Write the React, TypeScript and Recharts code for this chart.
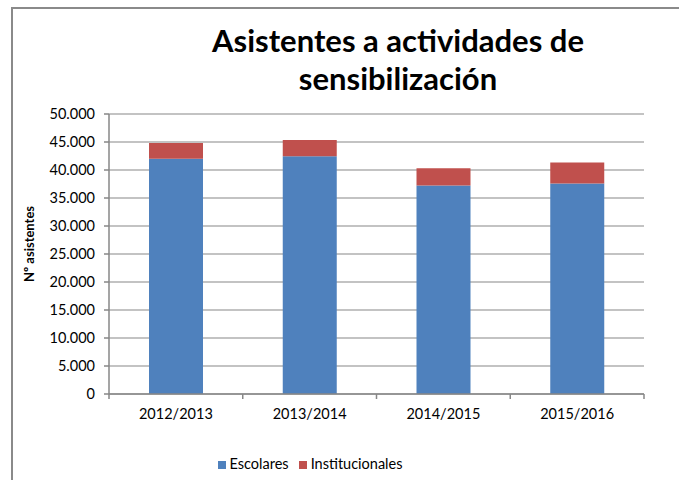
import React from 'react';
import { BarChart, Bar, XAxis, YAxis, CartesianGrid, Legend } from 'recharts';

const categories = ['2012/2013', '2013/2014', '2014/2015', '2015/2016'];
const escolares = [42000, 42450, 37250, 37600];
const institucionales = [2800, 2900, 3050, 3750];
const yTicks = [0, 5000, 10000, 15000, 20000, 25000, 30000, 35000, 40000, 45000, 50000];
const titleLines = ['Asistentes a actividades de', 'sensibilización'];

const data = categories.map((c, i) => ({
  name: c,
  Escolares: escolares[i],
  Institucionales: institucionales[i],
}));

const FONT = 'Lato, "Liberation Sans", sans-serif';
const GRAY = '#878787';

const fmt = (v: number) => {
  const s = String(Math.round(v));
  return s.replace(/\B(?=(\d{3})+(?!\d))/g, '.');
};

const XTick = (props: any) => {
  const { x, y, payload, index } = props;
  const off = payload.offset || 0;
  return (
    <g>
      <line x1={x - off} y1={y - 8} x2={x - off} y2={y - 3} stroke={GRAY} strokeWidth={1.5} />
      {index === categories.length - 1 && (
        <line x1={x + off} y1={y - 8} x2={x + off} y2={y - 3} stroke={GRAY} strokeWidth={1.5} />
      )}
      <text x={x} y={y + 17} textAnchor="middle" fontSize={14.5} fill="#000" fontFamily={FONT}>
        {payload.value}
      </text>
    </g>
  );
};

const YLabel = () => (
  <text
    x={31}
    y={244}
    transform="rotate(-90 31 244)"
    textAnchor="middle"
    dominantBaseline="middle"
    fontSize={13}
    fontWeight="bold"
    fill="#000"
    fontFamily={FONT}
  >
    Nº asistentes
  </text>
);

const titleStyle: React.CSSProperties = {
  position: 'absolute',
  left: 148,
  width: 500,
  textAlign: 'center',
  fontFamily: FONT,
  fontWeight: 'bold',
  fontSize: 31,
  lineHeight: '37.5px',
  height: 37.5,
  color: '#000',
  whiteSpace: 'nowrap',
};

export default function App() {
  return (
    <div style={{ position: 'absolute', left: 0, top: 0, width: 679, height: 480, overflow: 'hidden', background: '#fff' }}>
      <div
        style={{
          position: 'absolute',
          left: 11,
          top: 7,
          width: 800,
          height: 600,
          border: '2px solid #8a8a8a',
        }}
      />
      <div style={{ ...titleStyle, top: 22 }}>{titleLines[0]}</div>
      <div style={{ ...titleStyle, top: 60 }}>{titleLines[1]}</div>
      <div style={{ position: 'absolute', left: 0, top: 0 }}>
        <BarChart
          width={679}
          height={480}
          data={data}
          margin={{ top: 114, right: 35, bottom: 56, left: 49 }}
          barSize={54}
        >
          <CartesianGrid vertical={false} stroke={GRAY} strokeWidth={1.2} />
          <XAxis
            dataKey="name"
            axisLine={{ stroke: GRAY, strokeWidth: 1.5 }}
            tickLine={false}
            tick={<XTick />}
            height={30}
            interval={0}
          />
          <YAxis
            width={60}
            domain={[0, 50000]}
            ticks={yTicks}
            interval={0}
            tickFormatter={fmt}
            axisLine={{ stroke: GRAY, strokeWidth: 1.5 }}
            tickLine={{ stroke: GRAY, strokeWidth: 1.5 }}
            tickSize={5}
            tickMargin={9}
            tick={{ fill: '#000', fontSize: 14.5, fontFamily: FONT }}
            label={<YLabel />}
          />
          <Legend
            layout="horizontal"
            align="center"
            verticalAlign="middle"
            iconType="square"
            iconSize={8}
            wrapperStyle={{ top: 455, left: 0, width: 630, fontFamily: FONT, fontSize: 14.5, color: '#000' }}
            formatter={(v: string) => <span style={{ color: '#000' }}>{v}</span>}
          />
          <Bar dataKey="Escolares" stackId="a" fill="#4F81BD" isAnimationActive={false} />
          <Bar dataKey="Institucionales" stackId="a" fill="#C0504D" isAnimationActive={false} />
        </BarChart>
      </div>
    </div>
  );
}
